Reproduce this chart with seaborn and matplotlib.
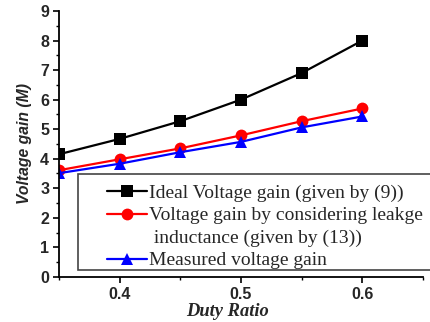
import matplotlib
matplotlib.use("Agg")
import matplotlib.pyplot as plt
import seaborn as sns
import pandas as pd
from matplotlib.ticker import MultipleLocator
from matplotlib.patches import Rectangle
from matplotlib.lines import Line2D

duty = [0.35, 0.40, 0.45, 0.50, 0.55, 0.60]
ideal = [4.15, 4.67, 5.27, 6.00, 6.90, 8.00]
leak = [3.61, 3.98, 4.35, 4.79, 5.27, 5.70]
measured = [3.51, 3.83, 4.22, 4.57, 5.06, 5.43]
labels = ["Ideal Voltage gain (given by (9))",
          "Voltage gain by considering leakge\n inductance (given by (13))",
          "Measured voltage gain"]
colors = ["black", "red", "blue"]
markers = ["s", "o", "^"]

df = pd.concat([
    pd.DataFrame({"Duty": duty, "Gain": vals, "Series": lab})
    for vals, lab in zip([ideal, leak, measured], labels)
])

sns.set_style("ticks")
fig = plt.figure(figsize=(4.3, 3.22), dpi=100)
ax = fig.add_axes([0.137, 0.14, 0.847, 0.826])

sns.lineplot(data=df, x="Duty", y="Gain", hue="Series", style="Series",
             palette=dict(zip(labels, colors)), markers=dict(zip(labels, markers)),
             dashes=False, linewidth=1.6, markersize=8.5, markeredgewidth=0,
             ax=ax, legend=True)

ax.set_xlim(0.35, 0.65)
ax.set_ylim(0, 9)
ax.xaxis.set_minor_locator(MultipleLocator(0.05))
ax.yaxis.set_major_locator(MultipleLocator(1))
ax.yaxis.set_minor_locator(MultipleLocator(0.5))
ax.set_xticks([0.4, 0.5, 0.6])
ax.set_xticklabels(["0.4", "0.5", "0.6"])
for lab in ax.get_xticklabels() + ax.get_yticklabels():
    lab.set_fontfamily("Liberation Sans")
    lab.set_fontweight("bold")
    lab.set_fontsize(11.5)
ax.tick_params(which="major", length=4, width=1.2, direction="out", color="black", pad=3)
ax.tick_params(which="minor", length=2.5, width=1.0, direction="out", color="black")
for s in ["left", "bottom"]:
    ax.spines[s].set_linewidth(1.3)
    ax.spines[s].set_color("black")
for s in ["top", "right"]:
    ax.spines[s].set_visible(False)

ax.set_xlabel("Duty Ratio", fontfamily="Liberation Serif", fontweight="bold",
              fontstyle="italic", fontsize=13.3)
ax.set_ylabel("Voltage gain (M)", fontfamily="Liberation Sans", fontweight="bold",
              fontstyle="italic", fontsize=11.3)
ax.xaxis.set_label_coords(0.462, -0.098)
ax.yaxis.set_label_coords(-0.075, 0.5)

h, l = ax.get_legend_handles_labels()
ax.get_legend().remove()
hmap = dict(zip(l, h))
blank = Line2D([], [], linestyle="none", marker="none")
leg_handles, leg_labels = [], []
for lab in labels:
    parts = lab.split("\n")
    leg_handles.append(hmap[lab])
    leg_labels.append(parts[0])
    for extra in parts[1:]:
        leg_handles.append(blank)
        leg_labels.append(extra)

frame = Rectangle((0.181, 0.161), 0.9, 0.298, transform=fig.transFigure,
                  fill=True, facecolor="white", edgecolor="#444444",
                  linewidth=1.2, zorder=5)
fig.patches.append(frame)

leg = fig.legend(leg_handles, leg_labels, loc="upper left", bbox_to_anchor=(0.249, 0.428),
                 bbox_transform=fig.transFigure,
                 prop={"family": "Liberation Serif", "size": 14},
                 frameon=False, handlelength=2.05,
                 handletextpad=0.1, labelspacing=0.25, borderpad=0,
                 borderaxespad=0)
leg.set_zorder(6)

fig.savefig("out.png", dpi=100)
